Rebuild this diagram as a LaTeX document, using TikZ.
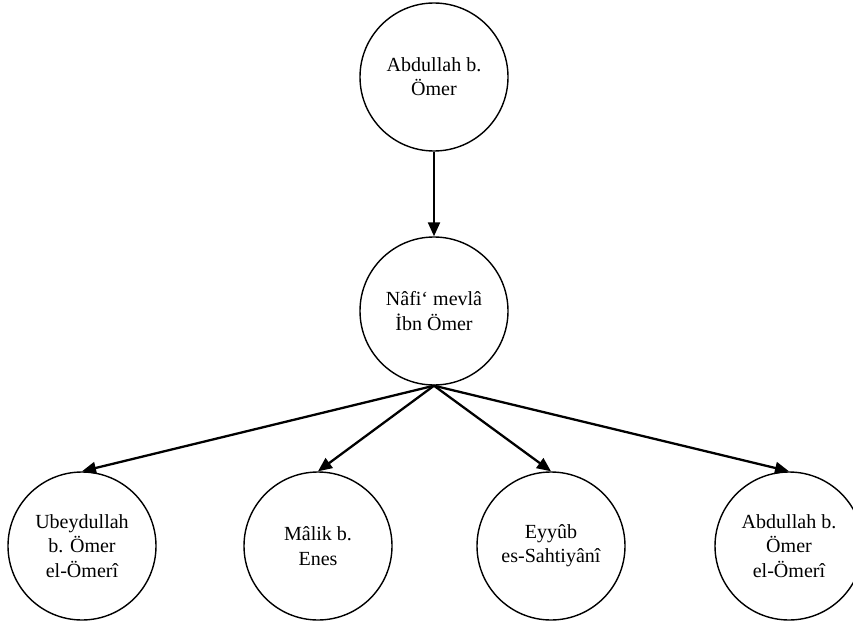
\documentclass[tikz,border=0pt]{standalone}
\usepackage{fontspec}
\setmainfont{Liberation Serif}
\usetikzlibrary{arrows.meta}
\begin{document}
\begin{tikzpicture}[
    personne/.style={circle, draw, line width=0.8pt, minimum size=2.96cm, inner sep=0pt,
        align=center, font=\fontsize{11.4}{13.8}\selectfont},
    lien/.style={line width=1.3pt, -{Triangle[length=0.28cm,width=0.24cm]}}
]
    % Cadre de l'image
    \useasboundingbox (0,0) rectangle (17.06,-12.56);

    % Définition des personnes
    \node[personne] (abdullah) at (8.68,-1.54) {Abdullah b.\\Ömer};
    \node[personne] (nafi) at (8.68,-6.22) {Nâfi‘ mevlâ\\İbn Ömer};
    \node[personne] (ubeydullah) at (1.64,-10.92) {Ubeydullah\\b. Ömer\\el-Ömerî};
    \node[personne] (malik) at (6.36,-10.92) {Mâlik b.\\Enes};
    \node[personne] (eyyub) at (11.02,-10.92) {Eyyûb\\es-Sahtiyânî};
    \node[personne] (abdullahumeri) at (15.78,-10.92) {Abdullah b.\\Ömer\\el-Ömerî};

    % Flèches de transmission
    \draw[lien] (abdullah.south) -- (nafi.north);
    \foreach \p in {ubeydullah,malik,eyyub,abdullahumeri} {
        \draw[lien] (nafi.south) -- (\p.north);
    }

\end{tikzpicture}
\end{document}
